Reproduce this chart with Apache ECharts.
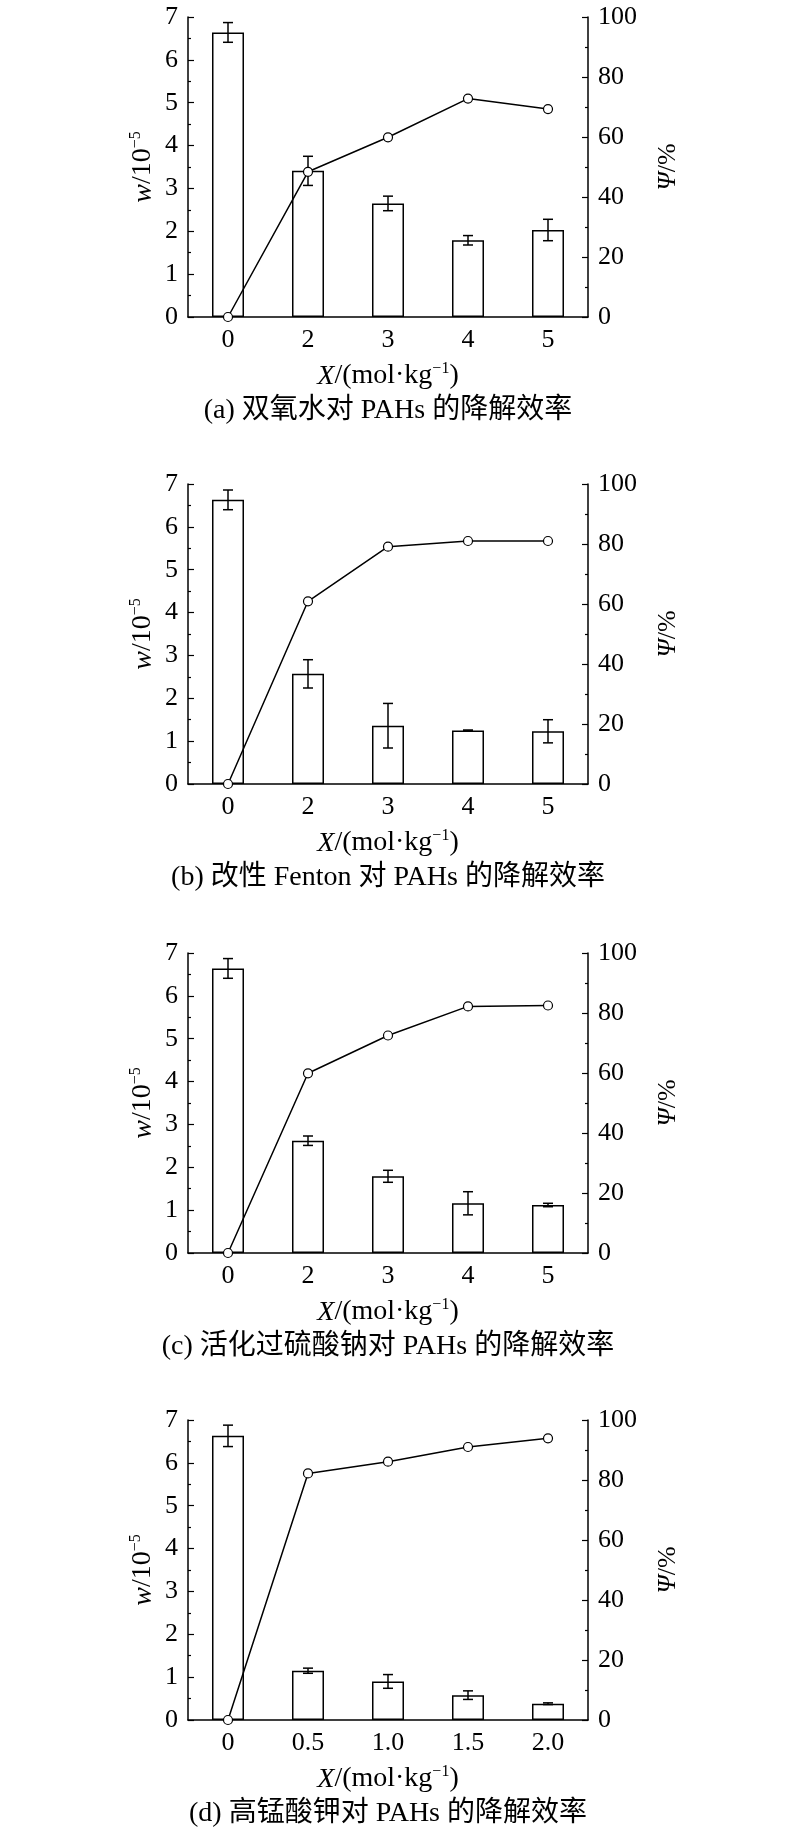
<!DOCTYPE html>
<html>
<head>
<meta charset="utf-8">
<script src="https://cdn.jsdelivr.net/npm/echarts@6/dist/echarts.min.js"></script>
<style>html,body{margin:0;padding:0;background:#fff}#c{width:800px;height:1829px}</style>
</head>
<body>
<div id="c"></div>
<script>
// ---- data ----
const catsABC = ['0', '2', '3', '4', '5'];
const catsD = ['0', '0.5', '1.0', '1.5', '2.0'];

const wA = [6.64, 3.41, 2.65, 1.79, 2.03];
const errA = [0.23, 0.34, 0.17, 0.11, 0.25];
const psiA = [0, 48.4, 59.9, 72.8, 69.3];

const wB = [6.63, 2.57, 1.36, 1.25, 1.23];
const errB = [0.23, 0.33, 0.52, 0.01, 0.27];
const psiB = [0, 60.9, 79.1, 81.0, 81.0];

const wC = [6.64, 2.62, 1.79, 1.16, 1.12];
const errC = [0.23, 0.11, 0.14, 0.27, 0.04];
const psiC = [0, 59.9, 72.5, 82.2, 82.5];

const wD = [6.63, 1.15, 0.90, 0.58, 0.38];
const errD = [0.25, 0.06, 0.16, 0.10, 0.02];
const psiD = [0, 82.2, 86.1, 91.0, 93.9];

const captions = [
  '(a) 双氧水对 PAHs 的降解效率',
  '(b) 改性 Fenton 对 PAHs 的降解效率',
  '(c) 活化过硫酸钠对 PAHs 的降解效率',
  '(d) 高锰酸钾对 PAHs 的降解效率'
];
const leftTicks = [0, 7, 1];   // min, max, interval
const rightTicks = [0, 100, 20];

// ---- layout ----
const panels = [
  {cats: catsABC, w: wA, err: errA, psi: psiA, top: 17},
  {cats: catsABC, w: wB, err: errB, psi: psiB, top: 484},
  {cats: catsABC, w: wC, err: errC, psi: psiC, top: 953},
  {cats: catsD, w: wD, err: errD, psi: psiD, top: 1420}
];
const GL = 188, GW = 400, GH = 300;
const FONT = "'Liberation Serif', 'Times New Roman', serif";
const CAPFONT = "'Liberation Serif', 'Noto Sans CJK SC', serif";

const option = {
  backgroundColor: '#fff',
  animation: false,
  grid: [], xAxis: [], yAxis: [], series: [], graphic: []
};

panels.forEach((p, i) => {
  option.grid.push({left: GL, top: p.top, width: GW, height: GH, containLabel: false});
  const lineStyle = {color: '#000', width: 1.5};
  // main category axis (bars, ticks at boundaries)
  option.xAxis.push({
    type: 'category', gridIndex: i, data: p.cats, boundaryGap: true,
    axisLine: {lineStyle},
    axisTick: {inside: true, length: 3, alignWithLabel: false, lineStyle: {color: '#000', width: 1.2}},
    axisLabel: {color: '#000', fontFamily: FONT, fontSize: 26, margin: 10},
    name: '{i|X}/(mol·kg{s|−1})', nameLocation: 'middle', nameGap: 44,
    nameTextStyle: {
      color: '#000', fontFamily: FONT, fontSize: 28, lineHeight: 30,
      rich: {
        i: {fontFamily: FONT, fontSize: 28, fontStyle: 'italic', color: '#000', lineHeight: 30, verticalAlign: 'bottom'},
        s: {fontFamily: FONT, fontSize: 16, color: '#000', verticalAlign: 'top', lineHeight: 30}
      }
    },
    splitLine: {show: false}
  });
  // tick-only axis (ticks at category centres)
  option.xAxis.push({
    type: 'category', gridIndex: i, data: p.cats, boundaryGap: true, z: 10,
    axisLine: {show: false},
    axisTick: {inside: true, length: 3, alignWithLabel: true, lineStyle: {color: '#000', width: 1.2}},
    axisLabel: {show: false}, splitLine: {show: false}
  });
  option.yAxis.push({
    type: 'value', gridIndex: i, min: leftTicks[0], max: leftTicks[1], interval: leftTicks[2],
    axisLine: {show: true, lineStyle},
    axisTick: {show: true, inside: true, length: 6, lineStyle: {color: '#000', width: 1.2}},
    minorTick: {show: true, splitNumber: 2, length: 3, lineStyle: {color: '#000', width: 1.2}},
    axisLabel: {color: '#000', fontFamily: FONT, fontSize: 26, margin: 10},
    splitLine: {show: false},
    name: '{i|w}/10{s|−5}', nameLocation: 'middle', nameGap: 30, nameRotate: 90,
    nameTextStyle: {
      color: '#000', fontFamily: FONT, fontSize: 28, lineHeight: 30,
      rich: {
        i: {fontFamily: FONT, fontSize: 28, fontStyle: 'italic', color: '#000', lineHeight: 30, verticalAlign: 'bottom'},
        s: {fontFamily: FONT, fontSize: 16, color: '#000', verticalAlign: 'top', lineHeight: 30}
      }
    }
  });
  option.yAxis.push({
    type: 'value', gridIndex: i, position: 'right', min: rightTicks[0], max: rightTicks[1], interval: rightTicks[2],
    axisLine: {show: true, lineStyle},
    axisTick: {show: true, inside: true, length: 6, lineStyle: {color: '#000', width: 1.2}},
    minorTick: {show: true, splitNumber: 2, length: 3, lineStyle: {color: '#000', width: 1.2}},
    axisLabel: {color: '#000', fontFamily: FONT, fontSize: 26, margin: 10},
    splitLine: {show: false},
    name: '{i|Ψ}/%', nameLocation: 'middle', nameGap: 66, nameRotate: 90,
    nameTextStyle: {
      color: '#000', fontFamily: FONT, fontSize: 26, lineHeight: 28,
      rich: {i: {fontFamily: FONT, fontSize: 26, fontStyle: 'italic', color: '#000', lineHeight: 28}}
    }
  });
  const xi = i * 2, yi = i * 2;
  option.series.push({
    type: 'bar', xAxisIndex: xi, yAxisIndex: yi, data: p.w, barWidth: 32, z: 2,
    itemStyle: {color: '#fff', borderColor: '#000', borderWidth: 1.5}
  });
  option.series.push({
    type: 'custom', xAxisIndex: xi, yAxisIndex: yi, z: 5,
    data: p.w.map((v, k) => [k, v - p.err[k], v + p.err[k]]),
    renderItem: (params, api) => {
      const lo = api.coord([api.value(0), api.value(1)]);
      const hi = api.coord([api.value(0), api.value(2)]);
      const hw = 5;
      const st = {stroke: '#000', lineWidth: 1.5};
      return {type: 'group', children: [
        {type: 'line', shape: {x1: lo[0], y1: lo[1], x2: hi[0], y2: hi[1]}, style: st},
        {type: 'line', shape: {x1: lo[0] - hw, y1: lo[1], x2: lo[0] + hw, y2: lo[1]}, style: st},
        {type: 'line', shape: {x1: hi[0] - hw, y1: hi[1], x2: hi[0] + hw, y2: hi[1]}, style: st}
      ]};
    }
  });
  option.series.push({
    type: 'line', xAxisIndex: xi, yAxisIndex: yi + 1, data: p.psi, z: 6,
    symbol: 'circle', symbolSize: 9,
    lineStyle: {color: '#000', width: 1.5},
    itemStyle: {color: '#fff', borderColor: '#000', borderWidth: 1.2}
  });
  option.graphic.push({
    type: 'text', x: GL + GW / 2, y: p.top + GH + 94,
    style: {text: captions[i], font: "28px " + CAPFONT, fill: '#000', textAlign: 'center', textVerticalAlign: 'middle'}
  });
});

const chart = echarts.init(document.getElementById('c'), null, {renderer: 'canvas'});
chart.setOption(option);
</script>
</body>
</html>
